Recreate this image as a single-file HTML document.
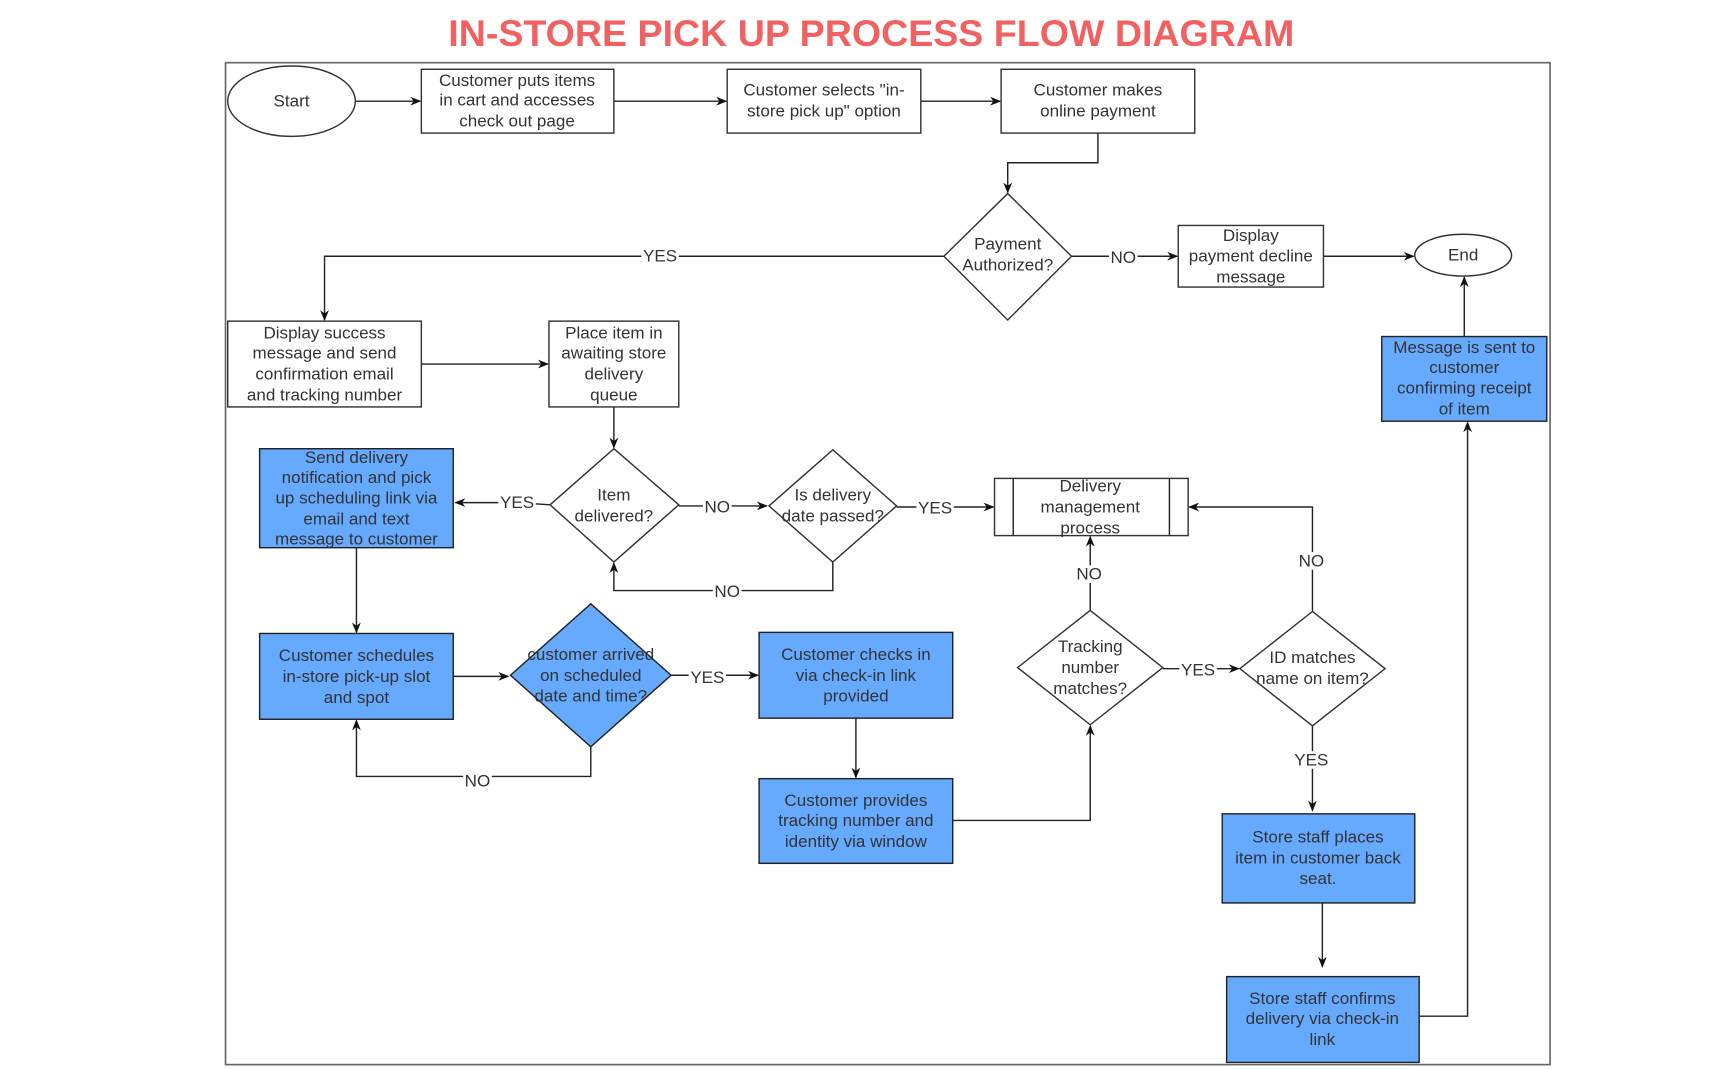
<!DOCTYPE html>
<html><head><meta charset="utf-8"><style>
html,body{margin:0;padding:0;background:#fff;}
svg{display:block;}
text{font-family:"Liberation Sans",Arial,sans-serif;font-size:15.5px;fill:#333;text-anchor:middle;}
.t{font-size:34px;font-weight:bold;fill:#f26161;}
.l{stroke:#222;stroke-width:1.3;fill:none;}
.b{fill:#66aaff;stroke:#222;stroke-width:1.3;}
.w{fill:#fff;stroke:#333;stroke-width:1.3;}
.lb{fill:#fff;}
</style></head><body>
<svg width="1725" height="1069" viewBox="0 0 1568 972" preserveAspectRatio="none" xmlns="http://www.w3.org/2000/svg">
<defs><marker id="a" markerWidth="10" markerHeight="10" refX="9" refY="5" orient="auto" markerUnits="userSpaceOnUse"><path d="M0,1 L10,5 L0,9 L3,5 z" fill="#111"/></marker></defs>
<text x="792" y="42" class="t" textLength="769" lengthAdjust="spacingAndGlyphs">IN-STORE PICK UP PROCESS FLOW DIAGRAM</text>
<rect x="205" y="57" width="1204" height="911" fill="none" stroke="#666" stroke-width="1.5"/>

<!-- connectors -->
<g class="l">
<path d="M323,92 H382" marker-end="url(#a)"/>
<path d="M558,92 H660" marker-end="url(#a)"/>
<path d="M837,92 H909" marker-end="url(#a)"/>
<path d="M998,121 V148 H916 V175" marker-end="url(#a)"/>
<path d="M858,233 H295 V291" marker-end="url(#a)"/>
<path d="M974,233 H1070" marker-end="url(#a)"/>
<path d="M1203,233 H1285" marker-end="url(#a)"/>
<path d="M1331,306 V252" marker-end="url(#a)"/>
<path d="M383,331 H498" marker-end="url(#a)"/>
<path d="M558,370 V407" marker-end="url(#a)"/>
<path d="M500,459 L470,457 H414" marker-end="url(#a)"/>
<path d="M617,460 H697" marker-end="url(#a)"/>
<path d="M757,511 V537 H558 V512" marker-end="url(#a)"/>
<path d="M815,461 H903" marker-end="url(#a)"/>
<path d="M324,498 V575" marker-end="url(#a)"/>
<path d="M412,615 H462" marker-end="url(#a)"/>
<path d="M537,679 V706 H324 V655" marker-end="url(#a)"/>
<path d="M610,614 H689" marker-end="url(#a)"/>
<path d="M778,653 V707" marker-end="url(#a)"/>
<path d="M866,746 H991 V660" marker-end="url(#a)"/>
<path d="M991,555 V488" marker-end="url(#a)"/>
<path d="M1057,608 H1126" marker-end="url(#a)"/>
<path d="M1193,556 V461 H1081" marker-end="url(#a)"/>
<path d="M1193,660 V737" marker-end="url(#a)"/>
<path d="M1202,821 V879" marker-end="url(#a)"/>
<path d="M1290,924 H1334 V384" marker-end="url(#a)"/>
</g>
<!-- labels -->
<rect class="lb" x="583" y="225" width="34" height="16"/><text x="600" y="238">YES</text>
<rect class="lb" x="1008" y="226" width="26" height="16"/><text x="1021" y="239">NO</text>
<rect class="lb" x="453" y="449" width="34" height="16"/><text x="470" y="462">YES</text>
<rect class="lb" x="639" y="453" width="26" height="16"/><text x="652" y="466">NO</text>
<rect class="lb" x="648" y="530" width="26" height="16"/><text x="661" y="543">NO</text>
<rect class="lb" x="833" y="454" width="34" height="16"/><text x="850" y="467">YES</text>
<rect class="lb" x="421" y="702" width="26" height="16"/><text x="434" y="715">NO</text>
<rect class="lb" x="626" y="608" width="34" height="16"/><text x="643" y="621">YES</text>
<rect class="lb" x="977" y="514" width="26" height="16"/><text x="990" y="527">NO</text>
<rect class="lb" x="1072" y="601" width="34" height="16"/><text x="1089" y="614">YES</text>
<rect class="lb" x="1179" y="502" width="26" height="16"/><text x="1192" y="515">NO</text>
<rect class="lb" x="1175" y="683" width="34" height="16"/><text x="1192" y="696">YES</text>

<!-- nodes -->
<ellipse class="w" cx="265" cy="92" rx="58" ry="32"/><text x="265" y="97">Start</text>
<rect class="w" x="383" y="63" width="175" height="58"/>
<text x="470" y="78">Customer puts items</text><text x="470" y="96">in cart and accesses</text><text x="470" y="115">check out page</text>
<rect class="w" x="661" y="63" width="176" height="58"/>
<text x="749" y="87">Customer selects "in-</text><text x="749" y="106">store pick up" option</text>
<rect class="w" x="910" y="63" width="176" height="58"/>
<text x="998" y="87">Customer makes</text><text x="998" y="106">online payment</text>
<polygon class="w" points="916,176 974,233 916,291 858,233"/>
<text x="916" y="227">Payment</text><text x="916" y="246">Authorized?</text>
<rect class="w" x="1071" y="205" width="132" height="56"/>
<text x="1137" y="219">Display</text><text x="1137" y="238">payment decline</text><text x="1137" y="257">message</text>
<ellipse class="w" cx="1330" cy="232" rx="44" ry="19"/><text x="1330" y="237">End</text>
<rect class="b" x="1256" y="306" width="150" height="77"/>
<text x="1331" y="321">Message is sent to</text><text x="1331" y="339">customer</text><text x="1331" y="358">confirming receipt</text><text x="1331" y="377">of item</text>
<rect class="w" x="207" y="292" width="176" height="78"/>
<text x="295" y="308">Display success</text><text x="295" y="326">message and send</text><text x="295" y="345">confirmation email</text><text x="295" y="364">and tracking number</text>
<rect class="w" x="499" y="292" width="118" height="78"/>
<text x="558" y="308">Place item in</text><text x="558" y="326">awaiting store</text><text x="558" y="345">delivery</text><text x="558" y="364">queue</text>
<polygon class="w" points="558,408 617,459 558,511 500,459"/>
<text x="558" y="455">Item</text><text x="558" y="474">delivered?</text>
<polygon class="w" points="757,409 815,460 757,511 699,460"/>
<text x="757" y="455">Is delivery</text><text x="757" y="474">date passed?</text>
<rect class="w" x="904" y="435" width="176" height="52"/>
<path class="l" d="M921,435 V487 M1063,435 V487" stroke="#333"/>
<text x="991" y="447">Delivery</text><text x="991" y="466">management</text><text x="991" y="485">process</text>
<rect class="b" x="236" y="408" width="176" height="90"/>
<text x="324" y="421">Send delivery</text><text x="324" y="439">notification and pick</text><text x="324" y="458">up scheduling link via</text><text x="324" y="477">email and text</text><text x="324" y="495">message to customer</text>
<rect class="b" x="236" y="576" width="176" height="78"/>
<text x="324" y="601">Customer schedules</text><text x="324" y="620">in-store pick-up slot</text><text x="324" y="639">and spot</text>
<polygon class="b" points="537,549 610,614 537,679 464,614"/>
<text x="537" y="600">customer arrived</text><text x="537" y="619">on scheduled</text><text x="537" y="638">date and time?</text>
<rect class="b" x="690" y="575" width="176" height="78"/>
<text x="778" y="600">Customer checks in</text><text x="778" y="619">via check-in link</text><text x="778" y="638">provided</text>
<rect class="b" x="690" y="708" width="176" height="77"/>
<text x="778" y="733">Customer provides</text><text x="778" y="751">tracking number and</text><text x="778" y="770">identity via window</text>
<polygon class="w" points="991,555 1057,607 991,659 925,607"/>
<text x="991" y="593">Tracking</text><text x="991" y="612">number</text><text x="991" y="631">matches?</text>
<polygon class="w" points="1193,556 1259,608 1193,660 1127,608"/>
<text x="1193" y="603">ID matches</text><text x="1193" y="622">name on item?</text>
<rect class="b" x="1111" y="740" width="175" height="81"/>
<text x="1198" y="766">Store staff places</text><text x="1198" y="785">item in customer back</text><text x="1198" y="804">seat.</text>
<rect class="b" x="1115" y="888" width="175" height="78"/>
<text x="1202" y="913">Store staff confirms</text><text x="1202" y="931">delivery via check-in</text><text x="1202" y="950">link</text>
</svg>
</body></html>
